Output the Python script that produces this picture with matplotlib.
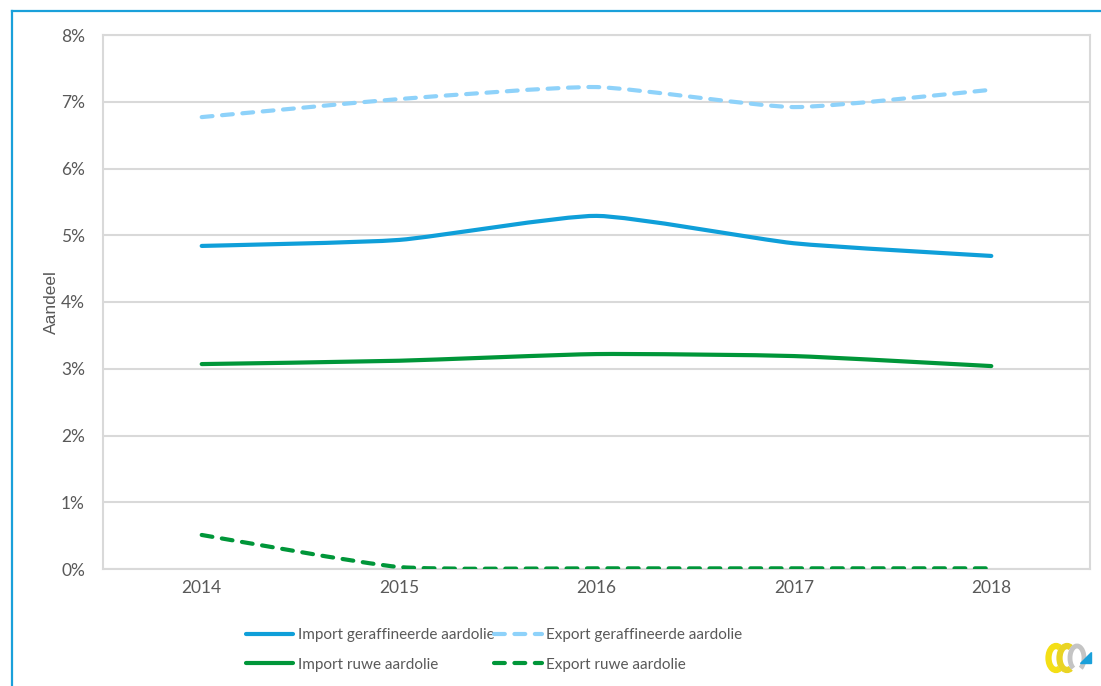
import numpy as np
import matplotlib
matplotlib.use("Agg")
import matplotlib.pyplot as plt
from matplotlib.path import Path
from matplotlib.patches import PathPatch, Arc, Polygon
from matplotlib.lines import Line2D

plt.rcParams['font.family'] = ['Lato', 'DejaVu Sans']

years = ['2014', '2015', '2016', '2017', '2018']
import_geraffineerd = [4.84, 4.93, 5.29, 4.88, 4.69]
export_geraffineerd = [6.77, 7.04, 7.22, 6.92, 7.18]
import_ruw = [3.07, 3.12, 3.22, 3.19, 3.04]
export_ruw = [0.51, 0.03, 0.01, 0.01, 0.01]

series_names = ['Import geraffineerde aardolie', 'Export geraffineerde aardolie',
                'Import ruwe aardolie', 'Export ruwe aardolie']

C_BLUE = '#0f9fd9'
C_LIGHT = '#8ed2fa'
C_GREEN = '#009639'
TXT = '#595959'
GRID = '#d9d9d9'

fig = plt.figure(figsize=(11.01, 6.86), dpi=100)
ax = fig.add_axes([103 / 1101, 1 - 569 / 686, 987 / 1101, 534 / 686])


def smooth_path(xs, ys, t=0.09):
    """Cubic Bezier through the points with light smoothing."""
    xs = np.asarray(xs, float)
    ys = np.asarray(ys, float)
    n = len(xs)
    verts = [(xs[0], ys[0])]
    codes = [Path.MOVETO]
    for i in range(n - 1):
        p0 = np.array([xs[max(i - 1, 0)], ys[max(i - 1, 0)]])
        p1 = np.array([xs[i], ys[i]])
        p2 = np.array([xs[i + 1], ys[i + 1]])
        p3 = np.array([xs[min(i + 2, n - 1)], ys[min(i + 2, n - 1)]])
        c1 = p1 + (p2 - p0) * t
        c2 = p2 - (p3 - p1) * t
        verts += [tuple(c1), tuple(c2), tuple(p2)]
        codes += [Path.CURVE4] * 3
    return Path(verts, codes)


x = np.arange(len(years))
DASH = (0, (2.6, 2.3))
styles = [
    (import_geraffineerd, C_BLUE, '-'),
    (export_geraffineerd, C_LIGHT, DASH),
    (import_ruw, C_GREEN, '-'),
    (export_ruw, C_GREEN, DASH),
]
for vals, col, ls in styles:
    patch = PathPatch(smooth_path(x, vals), facecolor='none', edgecolor=col,
                      linewidth=3.0, linestyle=ls, capstyle='round',
                      joinstyle='round', zorder=3)
    ax.add_patch(patch)

ax.set_xlim(-0.5, 4.5)
ax.set_ylim(0, 8)
ax.set_xticks(x)
ax.set_xticklabels(years)
ax.set_yticks(range(0, 9))
ax.set_yticklabels([f'{v}%' for v in range(0, 9)])
ax.tick_params(length=0, labelsize=12.5, colors=TXT, pad=8)
ax.tick_params(axis='y', pad=13)
ax.grid(axis='y', color=GRID, linewidth=1.5)
ax.set_axisbelow(True)
for s in ax.spines.values():
    s.set_color(GRID)
    s.set_linewidth(1.5)
ax.set_ylabel('Aandeel', fontsize=12.5, color=TXT, labelpad=1.5,
              family=['Liberation Sans', 'DejaVu Sans'])

# legend
handles = [Line2D([], [], color=c, lw=3.0, ls=l, dash_capstyle='round',
                  solid_capstyle='round') for _, c, l in styles]
order = [0, 2, 1, 3]
leg = fig.legend([handles[i] for i in order], [series_names[i] for i in order],
                 ncol=2, loc='center', bbox_to_anchor=(494 / 1101, 1 - 650 / 686),
                 frameon=False, fontsize=11, labelcolor=TXT, handlelength=3.1,
                 handletextpad=0.28, columnspacing=0.0, labelspacing=1.0)

# outer frame
fig.add_artist(Line2D([12 / 1101, 12 / 1101], [0, 1 - 11 / 686], color='#1aa0da',
                      lw=1.6, transform=fig.transFigure))
fig.add_artist(Line2D([12 / 1101, 1], [1 - 11 / 686, 1 - 11 / 686], color='#1aa0da',
                      lw=1.6, transform=fig.transFigure))

# small logo in the corner
lax = fig.add_axes([1042 / 1101, 1 - 678 / 686, 55 / 1101, 40 / 686])
lax.set_xlim(0, 55)
lax.set_ylim(0, 40)
lax.axis('off')
lax.add_patch(Arc((14, 20), 15, 24, theta1=70, theta2=290, lw=4.5, color='#f4df16'))
lax.add_patch(Arc((25, 20), 15, 24, theta1=70, theta2=290, lw=4.5, color='#e9d424'))
lax.add_patch(Arc((35, 20), 14, 24, theta1=-70, theta2=250, lw=3.5, color='#c4c4c4'))
lax.add_patch(Polygon([[38, 15], [49, 15], [49, 26]], color='#1aa0da'))

fig.savefig('out.png', dpi=100)
